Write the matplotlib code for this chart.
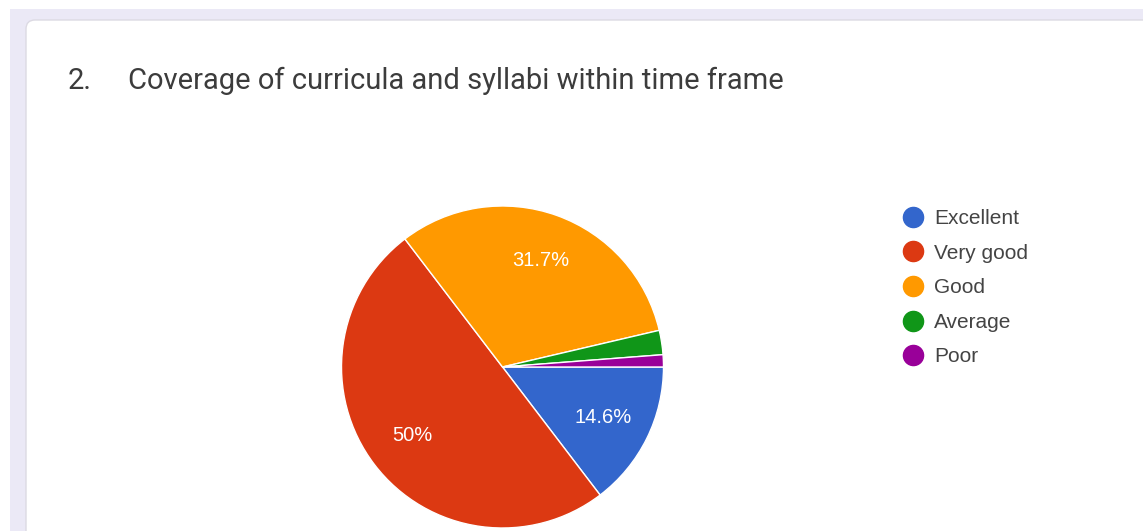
import matplotlib
matplotlib.use('Agg')
import matplotlib.pyplot as plt
from matplotlib.patches import Rectangle, FancyBboxPatch
from matplotlib.lines import Line2D

# responses to question 2
categories = ['Excellent', 'Very good', 'Good', 'Average', 'Poor']
counts = [12, 41, 26, 2, 1]
colors = ['#3366cc', '#dc3912', '#ff9900', '#109618', '#990099']
title_num = '2.'
title = 'Coverage of curricula and syllabi within time frame'

W, H = 1143, 531
fig = plt.figure(figsize=(W / 100, H / 100), dpi=100)
fig.patch.set_facecolor('white')

# page background + card (inches)
fig.patches.append(Rectangle((0.10, 0), 20, (H - 9) / 100, transform=fig.dpi_scale_trans,
                             facecolor='#ebe9f6', edgecolor='none', zorder=0))
fig.patches.append(FancyBboxPatch((0.26, -1), 20, (H - 20) / 100 + 1,
                                  boxstyle='round,pad=0,rounding_size=0.09',
                                  transform=fig.dpi_scale_trans, facecolor='white',
                                  edgecolor='#dcdae3', linewidth=1, zorder=1))

fig.text(68 / W, 1 - 81 / H, title_num, fontsize=21, family='Roboto', color='#3c3c3c',
         va='center', ha='left', zorder=3)
fig.text(128 / W, 1 - 81 / H, title, fontsize=21, family='Roboto', color='#3c3c3c',
         va='center', ha='left', zorder=3)

# pie
cx, cy, r = 502.5, 367, 161
ax = fig.add_axes([(cx - r) / W, (H - cy - r) / H, 2 * r / W, 2 * r / H])
ax.set_zorder(2)

def fmt(p):
    if p < 5:
        return ''
    s = f'{p:.1f}'
    if s.endswith('.0'):
        s = s[:-2]
    return s + '%'

wedges, texts, autotexts = ax.pie(counts, colors=colors, startangle=0, counterclock=False,
                                  autopct=fmt, pctdistance=0.7,
                                  wedgeprops=dict(edgecolor='white', linewidth=1),
                                  textprops=dict(color='white', fontsize=14.5,
                                                 family='Liberation Sans'))
ax.set_xlim(-1, 1)
ax.set_ylim(-1, 1)
ax.set_aspect('equal')
ax.axis('off')

handles = [Line2D([], [], marker='o', linestyle='none', markersize=14.5,
                  markerfacecolor=c, markeredgecolor=c) for c in colors]
leg = fig.legend(handles, categories, loc='upper left',
                 bbox_to_anchor=(902.5 / W, 1 - 209 / H), frameon=False,
                 prop=dict(family='Liberation Sans', size=15), labelcolor='#444444',
                 handlelength=1.0, handletextpad=0.5, labelspacing=0.75,
                 borderpad=0, borderaxespad=0)

fig.savefig('out.png', dpi=100)
